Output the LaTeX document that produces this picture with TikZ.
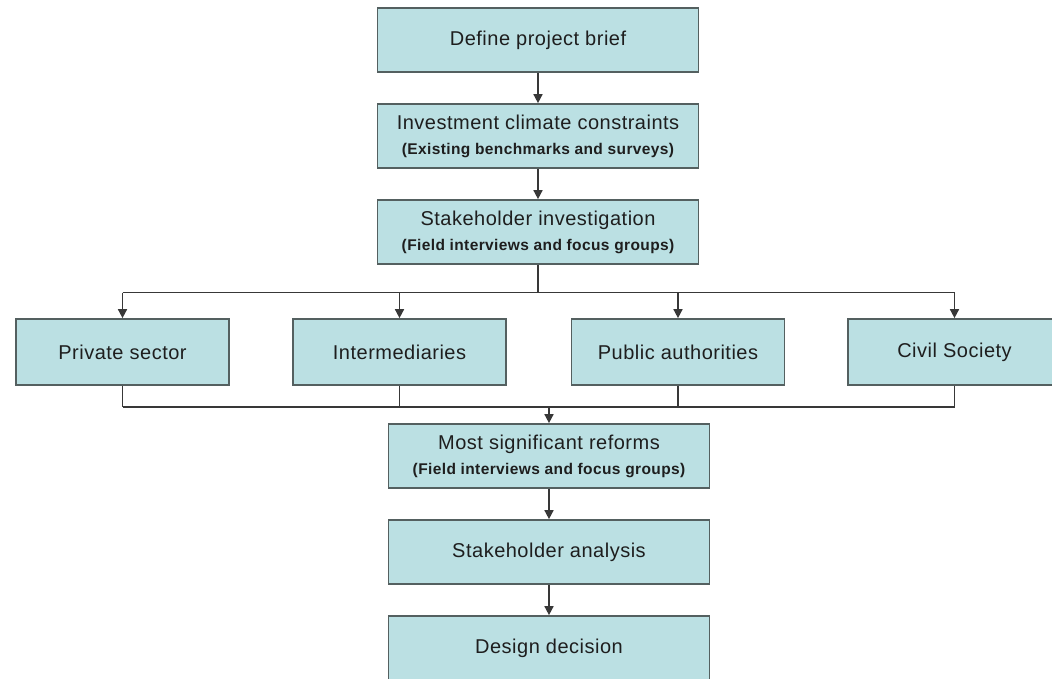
\documentclass[tikz,border=0pt]{standalone}
\usepackage{fontspec}
\setmainfont{Liberation Sans}
\newfontfamily\headfont[LetterSpace=2.5]{Liberation Sans}
\newfontfamily\notefont[LetterSpace=2.5]{Liberation Sans}
\usetikzlibrary{arrows.meta}
\definecolor{boxfill}{RGB}{187,224,227}
\definecolor{boxline}{RGB}{84,96,96}
\definecolor{wire}{RGB}{56,56,56}
\definecolor{ink}{RGB}{30,30,30}
\tikzset{
  stepbox/.style={draw=boxline, line width=1.7pt, fill=boxfill, align=center,
    text=ink, inner sep=0pt, minimum height=64pt, minimum width=321pt,
    font=\headfont\fontsize{20}{26}\selectfont},
  sidebox/.style={stepbox, minimum width=213pt, minimum height=66pt},
  flow/.style={draw=wire, line width=1.6pt,
    -{Triangle[width=9pt,length=9pt]}},
  joint/.style={draw=wire, line width=1.6pt}
}
\newcommand{\subline}[1]{{\notefont\bfseries\fontsize{15.5}{20}\selectfont #1}}
\begin{document}
\begin{tikzpicture}[x=1pt,y=-1pt]
  \useasboundingbox (0,0) rectangle (1052,678);
  \clip (0,0) rectangle (1052,678);

  % main column
  \node[stepbox] (brief) at (538,40) {Define project brief};
  \node[stepbox] (climate) at (538,136)
    {Investment climate constraints\\[-1pt]\subline{(Existing benchmarks and surveys)}};
  \node[stepbox] (invest) at (538,232)
    {Stakeholder investigation\\[-1pt]\subline{(Field interviews and focus groups)}};

  % stakeholder groups
  \node[sidebox] (private) at (122.5,352) {Private sector};
  \node[sidebox] (inter) at (399.5,352) {Intermediaries};
  \node[sidebox] (public) at (678,352) {Public authorities};
  \node[sidebox] (civil) at (954.5,352) {Civil Society};

  % lower column
  \node[stepbox] (reforms) at (549,456)
    {Most significant reforms\\[-1pt]\subline{(Field interviews and focus groups)}};
  \node[stepbox] (analysis) at (549,552) {Stakeholder analysis};
  \node[stepbox] (design) at (549,648) {Design decision};

  % split and merge rails
  \coordinate (split) at (538,292.5);
  \coordinate (merge) at (549,407);

  \draw[flow] (brief) -- (climate);
  \draw[flow] (climate) -- (invest);
  \draw[joint] (invest.south) -- (split);
  \draw[joint] (private.north |- split) -- (civil.north |- split);
  \foreach \n in {private,inter,public,civil}
    \draw[flow] (\n.north |- split) -- (\n.north);
  \foreach \n in {private,inter,public,civil}
    \draw[joint] (\n.south) -- (\n.south |- merge);
  \draw[joint] (private.south |- merge) -- (civil.south |- merge);
  \draw[flow] (merge) -- (reforms.north);
  \draw[flow] (reforms) -- (analysis);
  \draw[flow] (analysis) -- (design);
\end{tikzpicture}
\end{document}
